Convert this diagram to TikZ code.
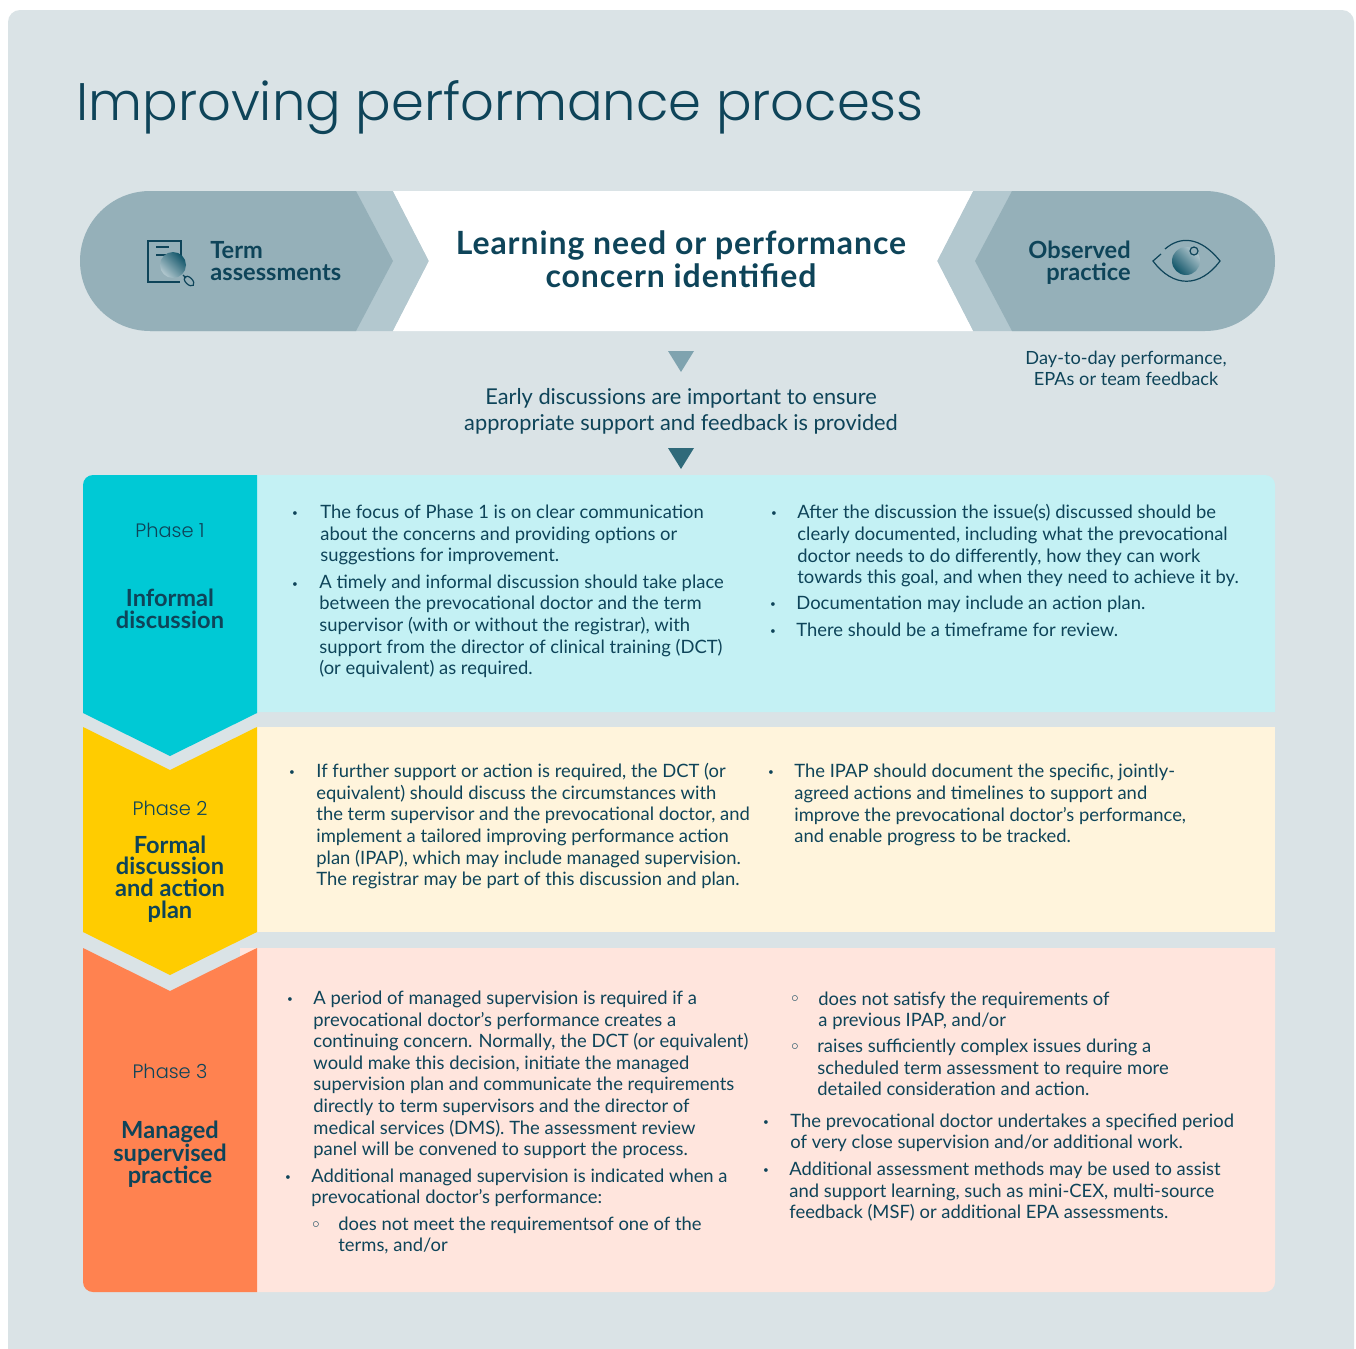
\documentclass[tikz,border=0pt]{standalone}
\usepackage{fontspec}
\setmainfont{Lato}
\newfontfamily\lightf[UprightFont={* Light}]{Poppins}
\newfontfamily\dejaf{DejaVu Sans}
\definecolor{ink}{HTML}{0E4459}
\definecolor{panelbg}{HTML}{DAE3E6}
\definecolor{pillc}{HTML}{95B0B9}
\definecolor{pilll}{HTML}{B3C8CF}
\definecolor{tealc}{HTML}{00C9D5}
\definecolor{teall}{HTML}{C4F1F4}
\definecolor{yelc}{HTML}{FFCC00}
\definecolor{yell}{HTML}{FFF4DC}
\definecolor{orac}{HTML}{FF8250}
\definecolor{oral}{HTML}{FFE5DD}
\definecolor{triL}{HTML}{7FA3AF}
\definecolor{triD}{HTML}{2F6A7A}
\definecolor{shadeD}{HTML}{0F5468}
\tikzset{
 bodyt/.style={anchor=base west,inner sep=0pt,yshift=-0.3pt,align=left,text=ink,font=\fontsize{9.2}{10.78}\selectfont},
 bul/.style={anchor=base,inner sep=0pt,yshift=0.7pt,text=ink,font=\fontsize{5}{6}\selectfont},
 sbul/.style={anchor=base,inner sep=0pt,text=ink,font=\dejaf\bfseries\fontsize{8}{10}\selectfont},
 headb/.style={anchor=center,inner sep=0pt,align=center,text=ink,font=\fontsize{11.8}{10.85}\selectfont\bfseries},
 phaset/.style={anchor=center,inner sep=0pt,text=ink,font=\lightf\fontsize{9.7}{12}\selectfont},
 icon/.style={draw=ink,line width=0.6pt,fill=none},
}
\begin{document}
\begin{tikzpicture}[x=0.5pt,y=-0.5pt]
\useasboundingbox (0,0) rectangle (1356,1349);
\fill[white] (0,0) rectangle (1356,1349);
\fill[panelbg,rounded corners=6pt] (8,10) rectangle (1354,1365);
% top band
\fill[pilll] (150,191) -- (393,191) -- (429,261) -- (393,331) -- (150,331) -- cycle;
\fill[pillc] (150,191) -- (356,191) -- (393,261) -- (356,331) -- (150,331) .. controls (111.3,331) and (80,299.7) .. (80,261) .. controls (80,222.3) and (111.3,191) .. (150,191) -- cycle;
\fill[pilll] (973,191) -- (1100,191) -- (1100,331) -- (973,331) -- (937,261) -- cycle;
\fill[pillc] (1012,191) -- (1205,191) .. controls (1243.7,191) and (1275,222.3) .. (1275,261) .. controls (1275,299.7) and (1243.7,331) .. (1205,331) -- (1012,331) -- (975,261) -- cycle;
\fill[white] (393,191) -- (973,191) -- (937,261) -- (973,331) -- (393,331) -- (429,261) -- cycle;
% document icon
\draw[icon] (181,262) -- (181,241) -- (148,241) -- (148,282) -- (180,282);
\draw[icon] (156,247) -- (169,247) (156,255) -- (170,255);
\shade[left color=pilll,right color=shadeD,shading angle=135] (173,265) circle (6.5pt);
\draw[icon] (183,275) -- (186,278);
\draw[icon,rotate around={-45:(189,281)}] (189,281) ellipse (3pt and 1.7pt);
% eye icon
\draw[icon] (1165,249) .. controls (1180,236) and (1200,236) .. (1220,261) .. controls (1200,288) and (1173,288) .. (1153,261) -- (1161,254);
\shade[left color=shadeD,right color=pilll,shading angle=135] (1186,261) circle (7pt);
\draw[icon,fill=pillc] (1194,251) circle (2pt);
% triangles
\fill[triL] (668,351) -- (694,351) -- (681,372) -- cycle;
\fill[triD] (668,448) -- (694,448) -- (681,469) -- cycle;
% phase rows
\fill[teall] (240,712) -- (240,475) [rounded corners=5pt] -- (1275,475) [sharp corners] -- (1275,712) -- cycle;
\fill[tealc] (83,713) [rounded corners=5pt] -- (83,475) [sharp corners] -- (257,475) -- (257,713) -- (170,756) -- cycle;
\fill[yell] (257,727) rectangle (1275,932);
\fill[yelc] (83,727) -- (170,770) -- (257,727) -- (257,932) -- (170,975) -- (83,932) -- cycle;
\fill[oral] (240,948) -- (1275,948) [rounded corners=5pt] -- (1275,1292) [sharp corners] -- (240,1292) -- cycle;
\fill[orac] (83,948) -- (170,991) -- (257,948) -- (257,1292) [rounded corners=5pt] -- (83,1292) [sharp corners] -- cycle;
% title
\node[anchor=base west,inner sep=0pt,text=ink,font=\lightf\fontsize{26.4}{30}\selectfont] (title) at (76,120) {Improving performance process};
% band text
\node[headb,align=left,anchor=west] (term) at (210,261) {Term\\assessments};
\node[headb,align=right,anchor=east] (obs) at (1131,262.5) {Observed\\practice};
\node[anchor=center,inner sep=0pt,align=center,text=ink,font=\fontsize{16}{16.5}\selectfont\bfseries\addfontfeature{LetterSpace=2.9}] (need) at (681,259.5) {Learning need or performance\\concern identified};
\node[anchor=center,inner sep=0pt,align=center,text=ink,font=\fontsize{9.1}{10.5}\selectfont] (day) at (1126,368.5) {Day-to-day performance,\\EPAs or team feedback};
\node[anchor=center,inner sep=0pt,align=center,text=ink,font=\fontsize{10.9}{13}\selectfont] (early) at (681,411.5) {Early discussions are important to ensure\\appropriate support and feedback is provided};
% phase labels
\node[phaset] (ph1) at (170,530) {Phase 1};
\node[headb] (ph1b) at (170,608.5) {Informal\\discussion};
\node[phaset] (ph2) at (170,808) {Phase 2};
\node[headb] (ph2b) at (170,879) {Formal\\discussion\\and action\\plan};
\node[phaset] (ph3) at (170,1071) {Phase 3};
\node[headb] (ph3b) at (170,1154) {Managed\\supervised\\practice};
% phase 1 text
\node[bul] (b11) at (295,518) {•};
\node[bodyt] (t11) at (320,561) {The focus of Phase 1 is on clear communication\\about the concerns and providing options or\\suggestions for improvement.};
\node[bul] (b12) at (295,589) {•};
\node[bodyt] (t12) at (319,674) {A timely and informal discussion should take place\\between the prevocational doctor and the term\\supervisor (with or without the registrar), with\\support from the director of clinical training (DCT)\\(or equivalent) as required.};
\node[bul] (b13) at (774,518) {•};
\node[bodyt] (t13) at (797,583) {After the discussion the issue(s) discussed should be\\clearly documented, including what the prevocational\\doctor needs to do differently, how they can work\\towards this goal, and when they need to achieve it by.};
\node[bul] (b14) at (773,609) {•};
\node[bodyt] (t14) at (796,609) {Documentation may include an action plan.};
\node[bul] (b15) at (773,636) {•};
\node[bodyt] (t15) at (796,636) {There should be a timeframe for review.};
% phase 2 text
\node[bul] (b21) at (292,777) {•};
\node[bodyt] (t21) at (316,885) {If further support or action is required, the DCT (or\\equivalent) should discuss the circumstances with\\the term supervisor and the prevocational doctor, and\\implement a tailored improving performance action\\plan (IPAP), which may include managed supervision.\\The registrar may be part of this discussion and plan.};
\node[bul] (b22) at (771,777) {•};
\node[bodyt] (t22) at (794,842) {The IPAP should document the specific, jointly-\\agreed actions and timelines to support and\\improve the prevocational doctor’s performance,\\and enable progress to be tracked.};
% phase 3 text
\node[bul] (b31) at (290,1004) {•};
\node[bodyt] (t31) at (313,1155) {A period of managed supervision is required if a\\prevocational doctor’s performance creates a\\continuing concern. Normally, the DCT (or equivalent)\\would make this decision, initiate the managed\\supervision plan and communicate the requirements\\directly to term supervisors and the director of\\medical services (DMS). The assessment review\\panel will be convened to support the process.};
\node[bul] (b32) at (288,1182) {•};
\node[bodyt] (t32) at (311,1203) {Additional managed supervision is indicated when a\\prevocational doctor’s performance:};
\node[sbul] (b33) at (316,1230) {◦};
\node[bodyt] (t33) at (338,1251) {does not meet the requirementsof one of the\\terms, and/or};
\node[sbul] (b34) at (795,1004) {◦};
\node[bodyt] (t34) at (818,1026) {does not satisfy the requirements of\\a previous IPAP, and/or};
\node[sbul] (b35) at (795,1052) {◦};
\node[bodyt] (t35) at (817,1095) {raises sufficiently complex issues during a\\scheduled term assessment to require more\\detailed consideration and action.};
\node[bul] (b36) at (766,1127) {•};
\node[bodyt] (t36) at (790,1148) {The prevocational doctor undertakes a specified period\\of very close supervision and/or additional work.};
\node[bul] (b37) at (766,1175) {•};
\node[bodyt] (t37) at (789,1218) {Additional assessment methods may be used to assist\\and support learning, such as mini-CEX, multi-source\\feedback (MSF) or additional EPA assessments.};
\end{tikzpicture}
\end{document}
